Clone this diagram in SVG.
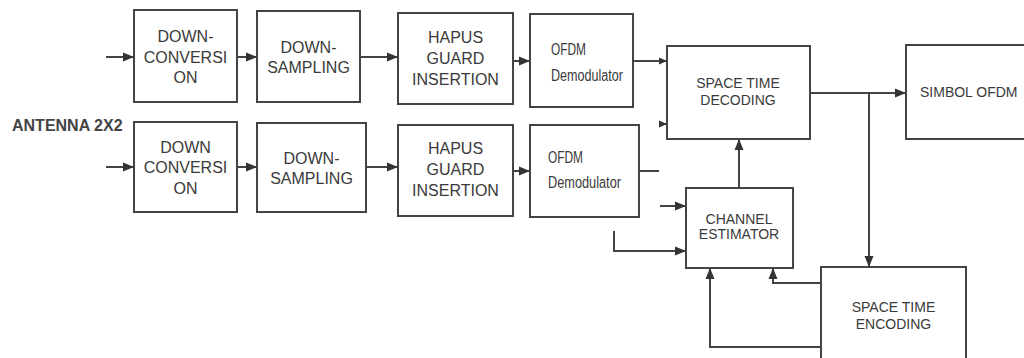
<svg xmlns="http://www.w3.org/2000/svg" width="1024" height="358" viewBox="0 0 1024 358">
<defs>
<marker id="ah" markerUnits="userSpaceOnUse" markerWidth="11" markerHeight="10" refX="11" refY="5" orient="auto">
<path d="M0,0.5 L11,5 L0,9.5 Z" fill="#333"/>
</marker>
<marker id="ahs" markerUnits="userSpaceOnUse" markerWidth="8" markerHeight="8" refX="8" refY="4" orient="auto">
<path d="M0,0.5 L8,4 L0,7.5 Z" fill="#333"/>
</marker>
</defs>
<style>
rect{fill:#fff;stroke:#444;stroke-width:2}
.c{fill:none;stroke:#444;stroke-width:2}
.a{marker-end:url(#ah)}
.s{marker-end:url(#ahs)}
text{font-family:"Liberation Sans",Arial,sans-serif;fill:#3a3a3a;text-anchor:middle}
.b{font-size:16px}
.m{font-size:14px}
.o{font-size:16px;text-anchor:start}
</style>
<rect width="1024" height="358" style="fill:#fff;stroke:none"/>
<text x="12" y="131" style="font-size:16px;font-weight:bold;text-anchor:start;fill:#444">ANTENNA 2X2</text>
<g id="dc1"><rect x="134" y="10" width="103" height="92"/><text class="b" x="185.5" y="42">DOWN-</text><text class="b" x="185.5" y="63">CONVERSI</text><text class="b" x="185.5" y="83">ON</text></g>
<g id="ds1"><rect x="257" y="11" width="103" height="91"/><text class="b" x="308.5" y="53">DOWN-</text><text class="b" x="308.5" y="73">SAMPLING</text></g>
<g id="hg1"><rect x="398" y="13" width="115" height="91"/><text class="b" x="455.5" y="43">HAPUS</text><text class="b" x="455.5" y="64">GUARD</text><text class="b" x="455.5" y="85">INSERTION</text></g>
<g id="od1"><rect x="530" y="14" width="103" height="93"/><text class="o" x="551" y="55" textLength="35" lengthAdjust="spacingAndGlyphs">OFDM</text><text class="o" x="551" y="81" textLength="72" lengthAdjust="spacingAndGlyphs">Demodulator</text></g>
<g id="dc2"><rect x="134" y="122" width="103" height="90"/><text class="b" x="185.5" y="153">DOWN</text><text class="b" x="185.5" y="173">CONVERSI</text><text class="b" x="185.5" y="194">ON</text></g>
<g id="ds2"><rect x="257" y="123" width="109" height="89"/><text class="b" x="311.5" y="164">DOWN-</text><text class="b" x="311.5" y="184">SAMPLING</text></g>
<g id="hg2"><rect x="398" y="125" width="115" height="91"/><text class="b" x="455.5" y="154">HAPUS</text><text class="b" x="455.5" y="175">GUARD</text><text class="b" x="455.5" y="196">INSERTION</text></g>
<g id="od2"><rect x="530" y="125" width="109" height="92"/><text class="o" x="548" y="163" textLength="35" lengthAdjust="spacingAndGlyphs">OFDM</text><text class="o" x="548" y="188" textLength="73" lengthAdjust="spacingAndGlyphs">Demodulator</text></g>
<g id="std"><rect x="667" y="46" width="143" height="93"/><text class="m" x="738" y="88">SPACE TIME</text><text class="m" x="738" y="105">DECODING</text></g>
<g id="sim"><rect x="906" y="45" width="130" height="94"/><text class="m" x="920" y="97" style="text-anchor:start">SIMBOL OFDM</text></g>
<g id="ce"><rect x="686" y="188" width="107" height="80"/><text class="m" x="739" y="224">CHANNEL</text><text class="m" x="739" y="239">ESTIMATOR</text></g>
<g id="ste"><rect x="821" y="267" width="145" height="100"/><text class="m" x="893.5" y="312">SPACE TIME</text><text class="m" x="893.5" y="329">ENCODING</text></g>
<g id="connectors">
<path class="c a" d="M106,57 H134"/>
<path class="c a" d="M237,57 H257"/>
<path class="c a" d="M360,57 H398"/>
<path class="c a" d="M513,61 H530"/>
<path class="c s" d="M633,61 H667"/>
<path class="c s" d="M662,124 H667"/>
<path class="c a" d="M106,167 H134"/>
<path class="c a" d="M237,167 H257"/>
<path class="c a" d="M366,167 H398"/>
<path class="c a" d="M513,171 H530"/>
<path class="c" d="M639,171 H659"/>
<path class="c a" d="M660,206 H686"/>
<path class="c a" d="M614,231 V251 H686"/>
<path class="c a" d="M739,188 V139"/>
<path class="c a" d="M810,93 H906"/>
<path class="c a" d="M869,93 V267"/>
<path class="c a" d="M821,283 H773 V268"/>
<path class="c a" d="M821,347 H710 V268"/>
</g>
</svg>
